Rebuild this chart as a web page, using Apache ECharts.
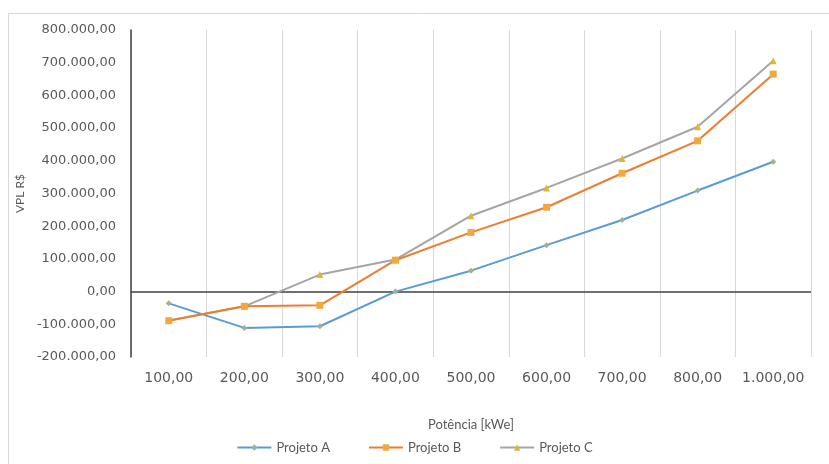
<!DOCTYPE html>
<html>
<head>
<meta charset="utf-8">
<script src="https://cdn.jsdelivr.net/npm/echarts@6/dist/echarts.min.js"></script>
<style>
  html, body { margin: 0; padding: 0; background: #ffffff; }
  #chart { width: 829px; height: 464px; }
</style>
</head>
<body>
<div id="chart"></div>
<script>
// Installed power (kWe) categories
const categories = ['100,00', '200,00', '300,00', '400,00', '500,00', '600,00', '700,00', '800,00', '1.000,00'];

// Net present value (R$) per project
const projetoA = [-36000, -111000, -106000, 0, 64000, 142000, 219000, 309000, 397000];
const projetoB = [-89000, -45000, -42000, 96000, 181000, 258000, 362000, 461000, 665000];
const projetoC = [-88000, -45000, 52000, 98000, 232000, 317000, 407000, 504000, 706000];

const seriesNames = ['Projeto A', 'Projeto B', 'Projeto C'];

// Brazilian number format: 800.000,00
function fmtBR(v) {
  const neg = v < 0;
  const s = Math.abs(Math.round(v)).toString().replace(/\B(?=(\d{3})+(?!\d))/g, '.');
  return (neg ? '-' : '') + s + ',00';
}

const chart = echarts.init(document.getElementById('chart'), null, { renderer: 'canvas' });

const labelColor = '#595959';

chart.setOption({
  backgroundColor: '#ffffff',
  animation: false,
  graphic: [{
    type: 'rect',
    shape: { x: 8.5, y: 13.5, width: 840, height: 470 },
    style: { fill: 'none', stroke: '#d9d9d9', lineWidth: 1 },
    silent: true
  }],
  grid: { left: 131, right: 18, top: 30, bottom: 107, containLabel: false },
  xAxis: {
    type: 'category',
    data: categories,
    boundaryGap: true,
    name: 'Potência [kWe]',
    nameLocation: 'middle',
    nameGap: 61,
    nameTextStyle: { color: labelColor, fontSize: 13, fontFamily: 'Lato' },
    axisLine: { show: false, onZero: false },
    axisTick: { show: false },
    axisLabel: {
      color: labelColor, fontSize: 14, fontFamily: 'DejaVu Sans', margin: 14, interval: 0
    },
    splitLine: { show: true, interval: 0, lineStyle: { color: '#d9d9d9', width: 1 } }
  },
  yAxis: {
    type: 'value',
    min: -200000,
    max: 800000,
    interval: 100000,
    name: 'VPL R$',
    nameLocation: 'middle',
    nameGap: 104,
    nameTextStyle: { color: labelColor, fontSize: 12, fontFamily: 'Lato' },
    axisLine: { show: true, lineStyle: { color: '#404040', width: 1.5 } },
    axisTick: { show: false },
    splitLine: { show: false },
    axisLabel: {
      color: labelColor, fontSize: 13, fontFamily: 'DejaVu Sans', margin: 15,
      formatter: fmtBR
    }
  },
  legend: {
    top: 436,
    left: 'center',
    itemWidth: 34,
    itemHeight: 8,
    itemGap: 38,
    textStyle: { color: labelColor, fontSize: 13, fontFamily: 'Lato' },
    data: seriesNames
  },
  series: [
    {
      name: seriesNames[0],
      type: 'line',
      data: projetoA,
      symbol: 'diamond',
      symbolSize: 6,
      lineStyle: { color: '#5b9bd5', width: 2 },
      itemStyle: { color: '#9fb48c' },
      z: 3,
      markLine: {
        silent: true,
        symbol: ['none', 'none'],
        label: { show: false },
        lineStyle: { color: '#404040', width: 1.5, type: 'solid' },
        data: [{ yAxis: 0 }],
        z: 1
      }
    },
    {
      name: seriesNames[1],
      type: 'line',
      data: projetoB,
      symbol: 'rect',
      symbolSize: 7,
      lineStyle: { color: '#ed7d31', width: 2 },
      itemStyle: { color: '#f2a83c' },
      z: 4
    },
    {
      name: seriesNames[2],
      type: 'line',
      data: projetoC,
      symbol: 'triangle',
      symbolSize: 7,
      lineStyle: { color: '#a5a5a5', width: 2 },
      itemStyle: { color: '#dcb83a' },
      z: 3
    }
  ]
});
</script>
</body>
</html>
